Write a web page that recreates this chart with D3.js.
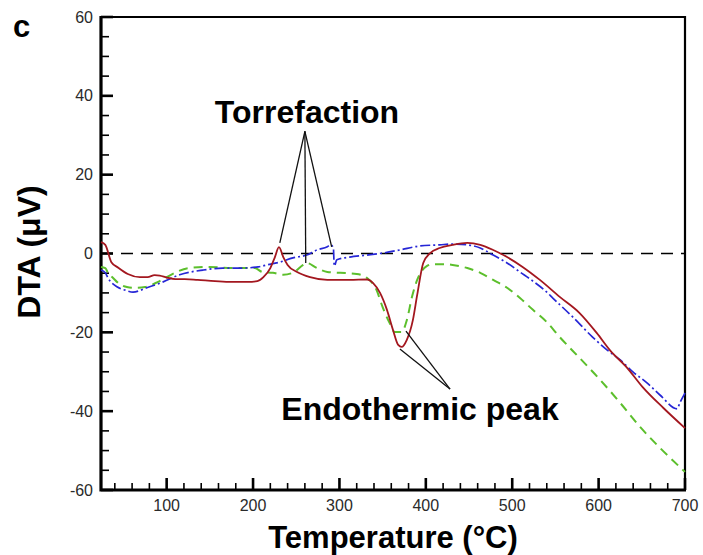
<!DOCTYPE html>
<html>
<head>
<meta charset="utf-8">
<script src="https://cdn.jsdelivr.net/npm/d3@7"></script>
<style>
  body { margin: 0; background: #fff; }
  svg text { font-family: Arial, "Liberation Sans", sans-serif; }
</style>
</head>
<body>
<div id="chart"></div>
<script>
// temperature (C), DTA (uV)
var redSeries = [[24,2.9],[29,2.2],[36,-2.2],[44,-3.6],[55,-5.2],[69,-6.0],[78,-6.0],[86,-5.5],[92,-5.6],[100,-6.1],
  [110,-6.5],[121,-6.5],[136,-6.7],[156,-7.0],[175,-7.2],[194,-7.2],[205,-7.0],[212,-6.0],[220,-3.7],[225,-1.1],
  [230,1.6],[235,-0.9],[240,-2.9],[251,-4.7],[266,-6.0],[286,-6.7],[312,-6.7],[332,-6.6],[339,-7.5],[347,-10.0],
  [355,-14.3],[362,-19.4],[368,-23.2],[372,-23.7],[378,-21.9],[385,-16.9],[390,-10.5],[397,-2.4],[405,0.1],[416,1.4],
  [431,2.2],[448,2.7],[463,2.2],[478,0.9],[494,-0.9],[512,-3.4],[532,-6.7],[555,-11.0],[578,-15.1],[598,-20.2],
  [613,-24.5],[633,-29.0],[651,-33.9],[675,-39.2],[700,-44.3]];

var blueSeries = [[24,-4.2],[29,-4.9],[32,-6.2],[43,-8.5],[52,-9.3],[61,-9.8],[77,-8.7],[96,-7.2],[115,-5.4],[142,-4.2],
  [165,-3.7],[186,-3.7],[206,-3.4],[216,-2.9],[231,-2.2],[246,-1.1],[262,-0.4],[274,0.9],[286,1.7],[290,2.2],
  [293,1.4],[294,-3.2],[297,-1.6],[312,-0.9],[332,-0.4],[350,0.1],[370,0.9],[393,1.9],[416,2.2],[431,2.4],
  [448,2.2],[463,1.4],[478,-0.4],[494,-2.4],[509,-4.7],[524,-7.0],[540,-9.8],[547,-11.3],[570,-16.1],[593,-21.2],
  [610,-24.5],[625,-27.0],[640,-30.1],[656,-32.8],[671,-35.9],[691,-39.4],[694,-37.9],[700,-35.4]];

var greenSeries = [[24,-3.4],[29,-3.7],[32,-4.9],[38,-6.2],[44,-7.5],[54,-8.5],[63,-8.7],[75,-8.5],[90,-7.2],[105,-5.4],
  [125,-3.7],[148,-3.4],[175,-3.7],[202,-3.7],[211,-4.7],[223,-4.9],[235,-5.4],[246,-4.9],[258,-2.9],[262,-2.4],
  [274,-3.7],[286,-4.7],[301,-4.9],[320,-5.2],[332,-6.2],[343,-9.3],[350,-13.6],[358,-17.6],[364,-19.9],[372,-19.9],
  [378,-16.9],[384,-11.0],[390,-6.7],[396,-4.2],[401,-3.2],[408,-2.7],[420,-2.7],[431,-2.9],[448,-3.7],[463,-4.9],
  [478,-6.7],[494,-8.7],[509,-11.3],[524,-14.3],[540,-17.4],[555,-21.2],[578,-26.5],[602,-32.1],[625,-37.9],[648,-44.0],
  [671,-49.3],[700,-55.4]];

var xTicks = [100,200,300,400,500,600,700];
var yTicks = [-60,-40,-20,0,20,40,60];
var xMinor = [40,60,80,120,140,160,180,220,240,260,280,320,340,360,380,420,440,460,480,520,540,560,580,620,640,660,680];
var yMinor = [-55,-50,-45,-35,-30,-25,-15,-10,-5,5,10,15,25,30,35,45,50,55];

// callouts: apex then the points they point at
var torrefactionLines = [[260,31],[[231,2.7],[261,-2.4],[291,1.7]]];
var endoLines = [[428,-34.4],[[370,-24.2],[377,-19.7]]];

var width = 703, height = 555;
var margin = {top:17, right:18, bottom:65, left:101};
var w = width - margin.left - margin.right,
    h = height - margin.top - margin.bottom;

var svg = d3.select("#chart").append("svg")
    .attr("width", width)
    .attr("height", height);

var g = svg.append("g")
    .attr("transform", "translate(" + margin.left + "," + margin.top + ")");

var x = d3.scaleLinear().domain([24,700]).range([0,w]);
var y = d3.scaleLinear().domain([-60,60]).range([h,0]);

// ticks drawn by hand, inward
var ticks = g.append("g").attr("stroke","#000");
ticks.selectAll(".xmin").data(xMinor).enter().append("line")
    .attr("x1", x).attr("x2", x).attr("y1", h).attr("y2", h - 7)
    .attr("stroke-width", 1.6);
ticks.selectAll(".xmaj").data(xTicks).enter().append("line")
    .attr("x1", x).attr("x2", x).attr("y1", h).attr("y2", h - 12)
    .attr("stroke-width", 2.6);
ticks.selectAll(".ymin").data(yMinor).enter().append("line")
    .attr("y1", y).attr("y2", y).attr("x1", 0).attr("x2", 8)
    .attr("stroke-width", 1.6);
ticks.selectAll(".ymaj").data(yTicks).enter().append("line")
    .attr("y1", y).attr("y2", y).attr("x1", 0).attr("x2", 12)
    .attr("stroke-width", 2.6);

// tick labels
g.selectAll(".xl").data(xTicks).enter().append("text")
    .attr("x", x).attr("y", h + 21)
    .attr("text-anchor","middle")
    .attr("font-size",16).attr("fill","#2a2a2a")
    .text(function(d){ return d; });
g.selectAll(".yl").data(yTicks).enter().append("text")
    .attr("x", -8).attr("y", y).attr("dy","0.35em")
    .attr("text-anchor","end")
    .attr("font-size",16).attr("fill","#2a2a2a")
    .text(function(d){ return d; });

// frame: thin top/right, heavy left/bottom
g.append("path")
    .attr("d", "M0,0H" + w + "V" + h)
    .attr("fill","none").attr("stroke","#000").attr("stroke-width",2.2);
g.append("path")
    .attr("d", "M0,-1V" + h + "H" + (w + 1))
    .attr("fill","none").attr("stroke","#000").attr("stroke-width",3.2);

// zero line
g.append("line")
    .attr("x1",0).attr("x2",w)
    .attr("y1",y(0)).attr("y2",y(0))
    .attr("stroke","#000").attr("stroke-width",1.5)
    .attr("stroke-dasharray","12,8");

var line = d3.line()
    .x(function(d){ return x(d[0]); })
    .y(function(d){ return y(d[1]); })
    .curve(d3.curveMonotoneX);

g.append("path").datum(greenSeries)
    .attr("d", line).attr("fill","none")
    .attr("stroke","#5cbf2c").attr("stroke-width",2)
    .attr("stroke-dasharray","9,6");

g.append("path").datum(blueSeries)
    .attr("d", line).attr("fill","none")
    .attr("stroke","#2626d6").attr("stroke-width",1.7)
    .attr("stroke-dasharray","10,3,2,3");

g.append("path").datum(redSeries)
    .attr("d", line).attr("fill","none")
    .attr("stroke","#a3171f").attr("stroke-width",1.8);

// callout lines
[torrefactionLines, endoLines].forEach(function(c){
    c[1].forEach(function(p){
        g.append("line")
            .attr("x1", x(c[0][0])).attr("y1", y(c[0][1]))
            .attr("x2", x(p[0])).attr("y2", y(p[1]))
            .attr("stroke","#111").attr("stroke-width",1.3);
    });
});

// annotations
svg.append("text")
    .attr("x",307).attr("y",123)
    .attr("text-anchor","middle")
    .attr("font-size",32).attr("font-weight","bold")
    .text("Torrefaction");

svg.append("text")
    .attr("x",420).attr("y",420)
    .attr("text-anchor","middle")
    .attr("font-size",32).attr("font-weight","bold")
    .text("Endothermic peak");

// titles
svg.append("text")
    .attr("x",393).attr("y",548)
    .attr("text-anchor","middle")
    .attr("font-size",31).attr("font-weight","bold")
    .text("Temperature (°C)");

svg.append("text")
    .attr("transform","translate(40,252) rotate(-90)")
    .attr("text-anchor","middle")
    .attr("font-size",32).attr("font-weight","bold")
    .text("DTA (μV)");

svg.append("text")
    .attr("x",13).attr("y",37)
    .attr("font-size",31).attr("font-weight","bold")
    .text("c");
</script>
</body>
</html>
